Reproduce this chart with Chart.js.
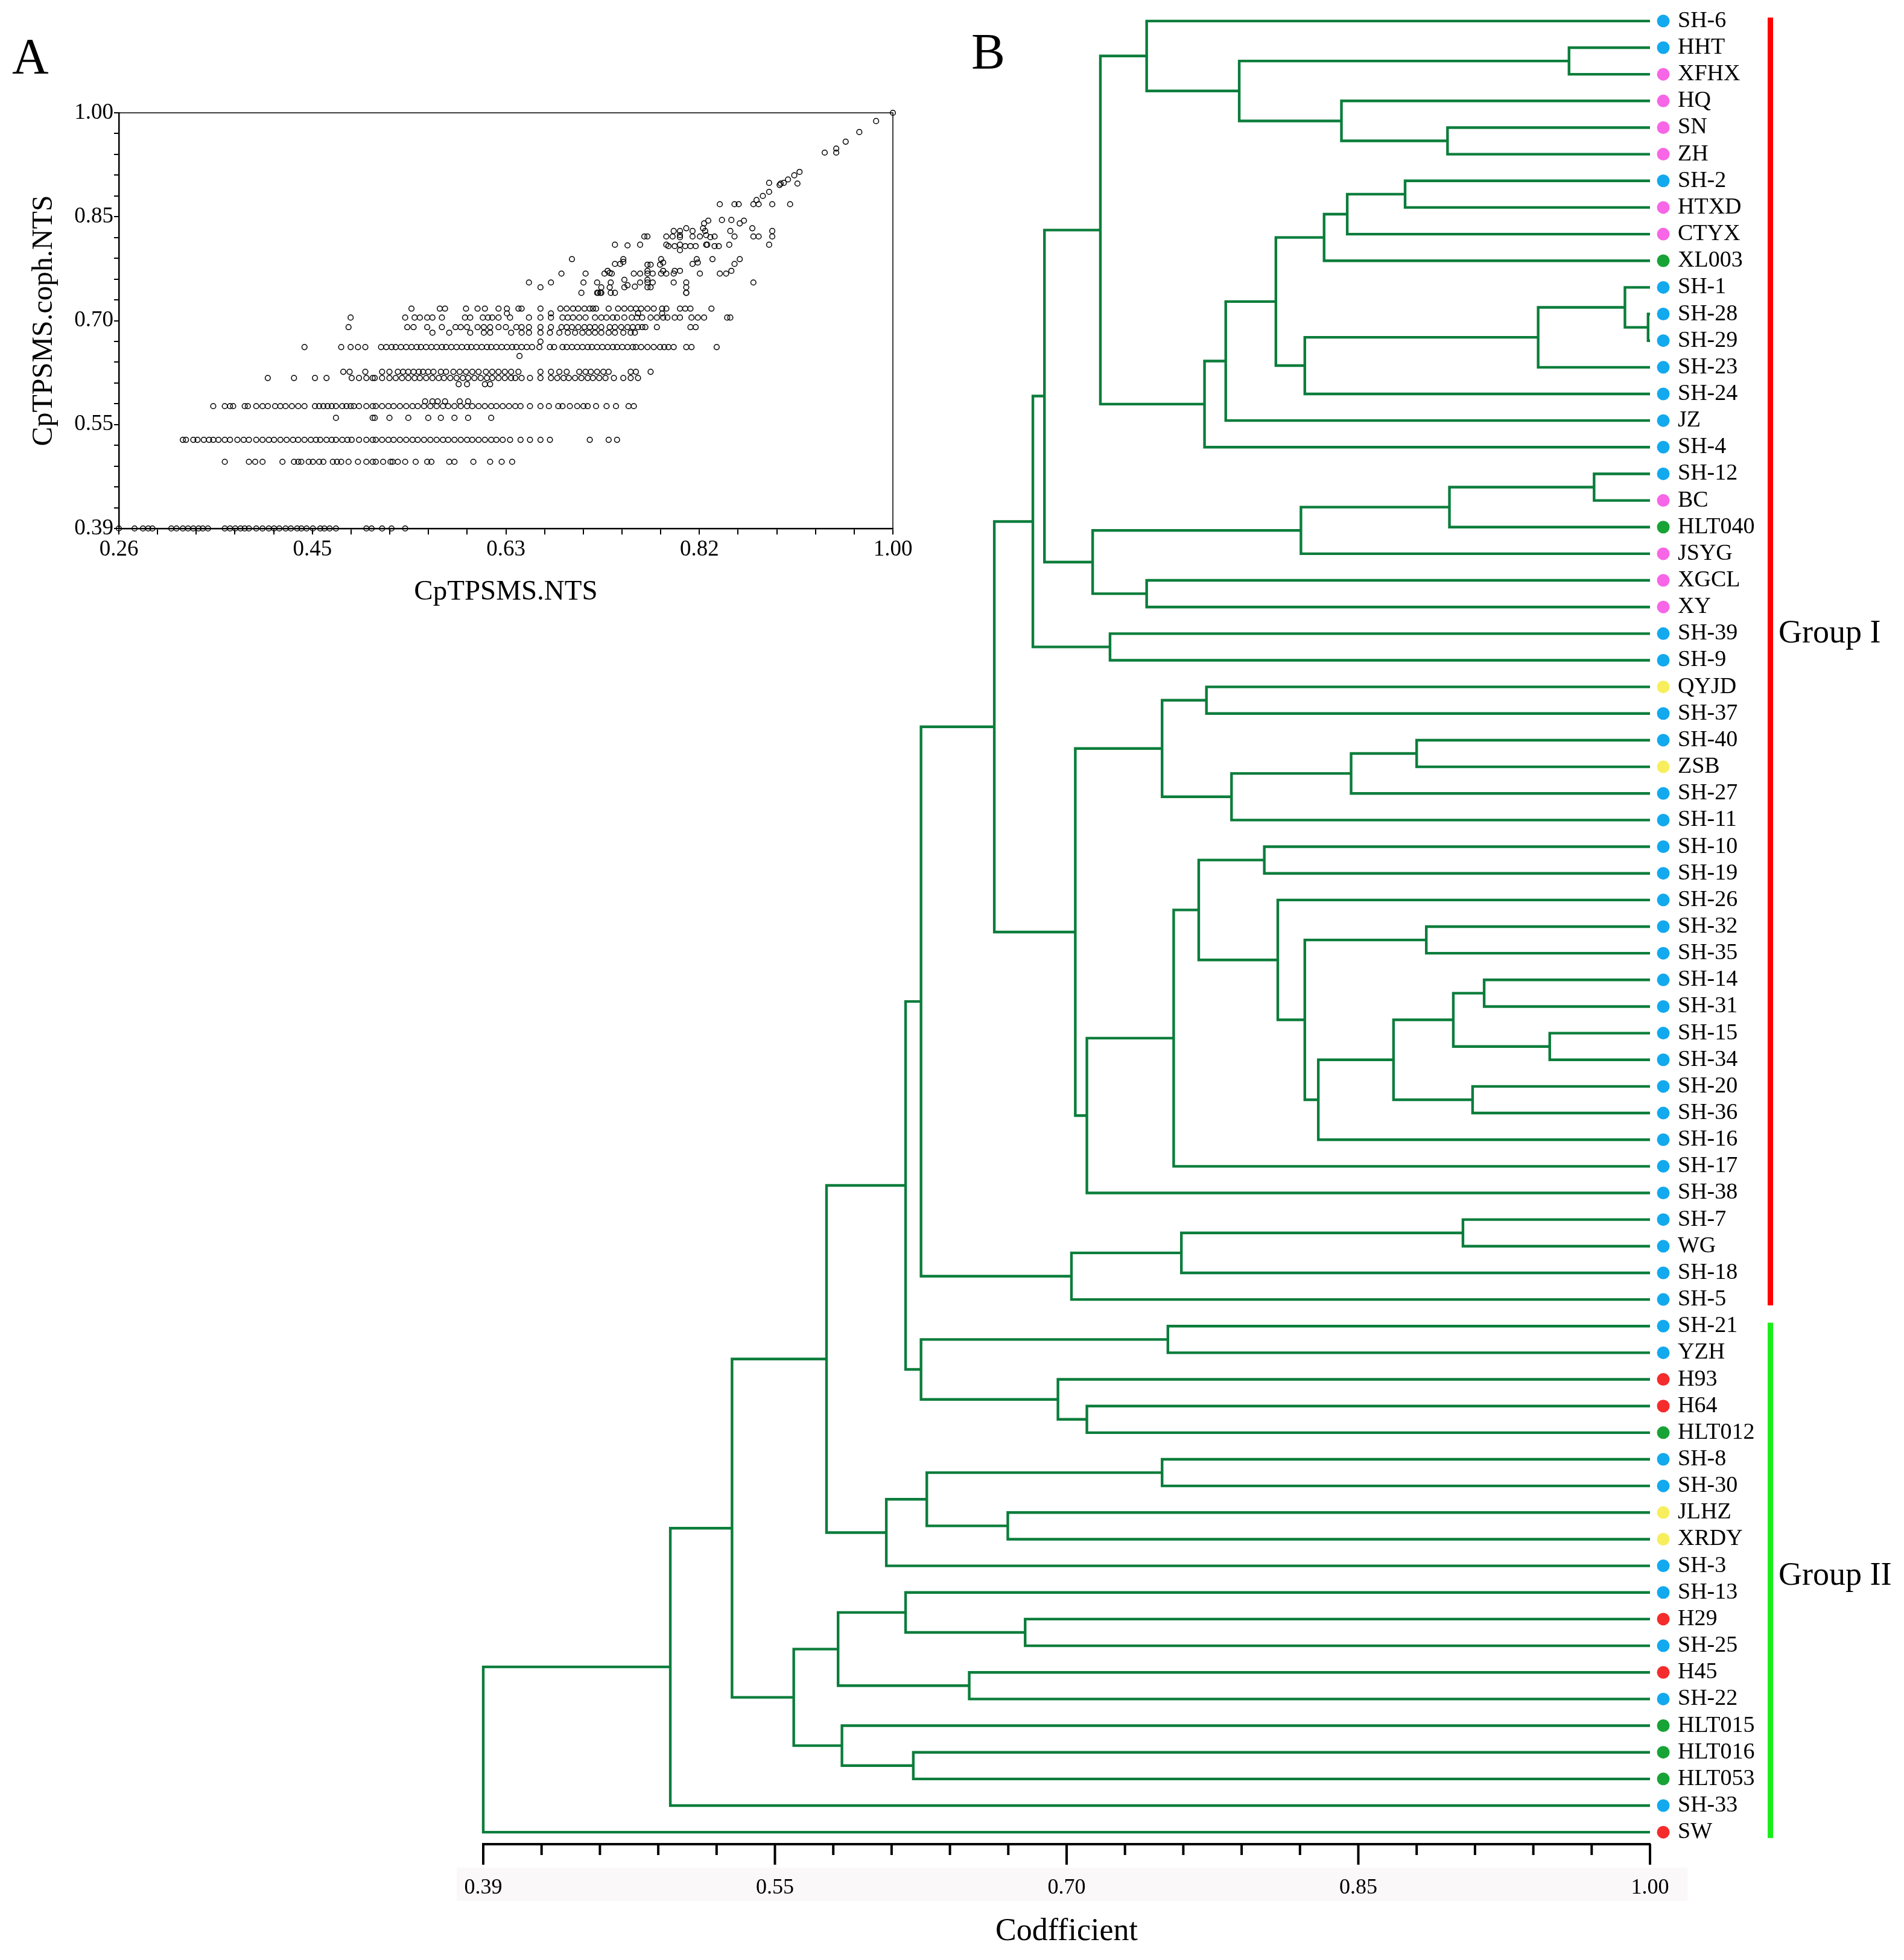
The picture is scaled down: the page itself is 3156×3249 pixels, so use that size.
<!DOCTYPE html>
<html>
<head>
<meta charset="utf-8">
<script src="https://cdn.jsdelivr.net/npm/chart.js@4.4.1/dist/chart.umd.min.js"></script>
<style>
  html, body { margin: 0; padding: 0; background: #fff; }
  #wrap { position: relative; width: 3156px; height: 3249px; }
  #wrap canvas { position: absolute; left: 0; top: 0; }
</style>
</head>
<body>
<div id="wrap">
  <canvas id="scatter" width="3156" height="3249"></canvas>
  <canvas id="tree" width="3156" height="3249"></canvas>
</div>
<script>
// ---------- panel A : NTS similarity vs cophenetic value ----------
const xTickLabels = ['0.26', '0.45', '0.63', '0.82', '1.00'];
const yTickLabels = ['0.39', '0.55', '0.70', '0.85', '1.00'];

// points sitting on one cophenetic level (one row each)
const nts395 = [0.262, 0.277, 0.285, 0.290, 0.294, 0.312, 0.317, 0.323, 0.328, 0.333, 0.338, 0.342, 0.347, 0.363, 0.368, 0.373, 0.378, 0.382, 0.386, 0.393, 0.399, 0.405, 0.410, 0.415, 0.421, 0.426, 0.432, 0.436, 0.441, 0.447, 0.454, 0.458, 0.463, 0.469, 0.498, 0.503, 0.513, 0.522, 0.535];
const nts492 = [0.363, 0.386, 0.392, 0.399, 0.418, 0.429, 0.433, 0.436, 0.443, 0.447, 0.453, 0.457, 0.466, 0.470, 0.474, 0.481, 0.490, 0.498, 0.504, 0.507, 0.514, 0.521, 0.523, 0.528, 0.535, 0.545, 0.556, 0.560, 0.577, 0.582, 0.600, 0.616, 0.627, 0.637];
const nts524 = [0.323, 0.326, 0.333, 0.337, 0.343, 0.348, 0.352, 0.357, 0.363, 0.368, 0.375, 0.381, 0.386, 0.393, 0.399, 0.405, 0.410, 0.416, 0.422, 0.428, 0.433, 0.439, 0.445, 0.450, 0.454, 0.460, 0.465, 0.469, 0.475, 0.480, 0.484, 0.491, 0.498, 0.504, 0.507, 0.513, 0.519, 0.524, 0.530, 0.536, 0.542, 0.547, 0.553, 0.559, 0.565, 0.571, 0.576, 0.582, 0.588, 0.594, 0.599, 0.605, 0.611, 0.617, 0.622, 0.628, 0.635, 0.645, 0.654, 0.664, 0.673, 0.711, 0.729, 0.737];
const nts556 = [0.469, 0.504, 0.506, 0.520, 0.538, 0.557, 0.569, 0.582, 0.595, 0.617];
const nts573 = [0.352, 0.363, 0.368, 0.371, 0.382, 0.385, 0.393, 0.399, 0.404, 0.411, 0.416, 0.421, 0.427, 0.433, 0.439, 0.449, 0.453, 0.457, 0.461, 0.465, 0.469, 0.475, 0.479, 0.483, 0.486, 0.491, 0.498, 0.504, 0.507, 0.513, 0.519, 0.524, 0.530, 0.536, 0.542, 0.547, 0.553, 0.559, 0.565, 0.571, 0.576, 0.582, 0.588, 0.594, 0.599, 0.605, 0.611, 0.617, 0.622, 0.628, 0.634, 0.640, 0.645, 0.654, 0.664, 0.672, 0.681, 0.685, 0.692, 0.699, 0.705, 0.709, 0.717, 0.727, 0.736, 0.748, 0.753];
const nts580 = [0.554, 0.561, 0.566, 0.573, 0.587, 0.595];
const nts605 = [0.586, 0.594, 0.611, 0.616];
const nts614 = [0.404, 0.429, 0.449, 0.460, 0.484, 0.491, 0.498, 0.504, 0.506, 0.513, 0.520, 0.526, 0.532, 0.538, 0.544, 0.549, 0.555, 0.561, 0.567, 0.572, 0.578, 0.584, 0.590, 0.595, 0.601, 0.607, 0.613, 0.618, 0.624, 0.630, 0.636, 0.640, 0.646, 0.654, 0.664, 0.674, 0.680, 0.686, 0.691, 0.697, 0.703, 0.709, 0.714, 0.720, 0.726, 0.734, 0.743, 0.750, 0.757];
const nts623 = [0.476, 0.482, 0.497, 0.513, 0.520, 0.528, 0.533, 0.538, 0.543, 0.548, 0.552, 0.557, 0.562, 0.569, 0.574, 0.581, 0.587, 0.593, 0.599, 0.605, 0.612, 0.618, 0.624, 0.630, 0.636, 0.643, 0.664, 0.674, 0.682, 0.689, 0.701, 0.707, 0.712, 0.718, 0.724, 0.729, 0.750, 0.755, 0.769];
const nts646 = [0.644];
const nts659 = [0.439, 0.474, 0.483, 0.490, 0.497, 0.512, 0.517, 0.522, 0.526, 0.531, 0.536, 0.541, 0.546, 0.550, 0.555, 0.560, 0.565, 0.570, 0.574, 0.579, 0.584, 0.589, 0.594, 0.598, 0.603, 0.608, 0.613, 0.617, 0.622, 0.627, 0.632, 0.637, 0.641, 0.646, 0.651, 0.656, 0.663, 0.673, 0.677, 0.685, 0.689, 0.694, 0.699, 0.704, 0.709, 0.713, 0.718, 0.723, 0.728, 0.733, 0.737, 0.742, 0.747, 0.752, 0.755, 0.760, 0.766, 0.772, 0.778, 0.782, 0.786, 0.791, 0.803, 0.808, 0.832];
const nts667 = [0.664];
const nts680 = [0.561, 0.577, 0.597, 0.610, 0.616, 0.636, 0.646, 0.653, 0.664, 0.673, 0.682, 0.690, 0.697, 0.704, 0.710, 0.716, 0.722, 0.729, 0.735, 0.743, 0.750, 0.754];
const nts688 = [0.481, 0.537, 0.543, 0.556, 0.570, 0.583, 0.588, 0.594, 0.604, 0.610, 0.616, 0.624, 0.631, 0.641, 0.646, 0.653, 0.664, 0.674, 0.684, 0.689, 0.694, 0.700, 0.706, 0.711, 0.716, 0.722, 0.730, 0.735, 0.741, 0.747, 0.752, 0.757, 0.761, 0.764, 0.775, 0.807, 0.812];
const nts702 = [0.483, 0.535, 0.544, 0.549, 0.556, 0.561, 0.570, 0.592, 0.597, 0.609, 0.614, 0.618, 0.624, 0.635, 0.653, 0.664, 0.674, 0.685, 0.690, 0.695, 0.701, 0.707, 0.716, 0.722, 0.727, 0.733, 0.737, 0.744, 0.751, 0.756, 0.761, 0.769, 0.775, 0.781, 0.785, 0.792, 0.797, 0.808, 0.814, 0.820, 0.842, 0.845];
const nts708 = [0.632, 0.674, 0.757, 0.780];
const nts715 = [0.541, 0.568, 0.573, 0.593, 0.604, 0.611, 0.624, 0.632, 0.643, 0.646, 0.664, 0.683, 0.689, 0.695, 0.700, 0.706, 0.711, 0.714, 0.717, 0.729, 0.738, 0.744, 0.750, 0.755, 0.760, 0.766, 0.772, 0.780, 0.784, 0.797, 0.802, 0.807, 0.827];
const nts738 = [0.703, 0.718, 0.719, 0.721, 0.722, 0.731, 0.735, 0.803];

const rowLevels = [0.395, 0.492, 0.524, 0.556, 0.573, 0.580, 0.605, 0.614, 0.623, 0.646, 0.659, 0.667, 0.680, 0.688, 0.702, 0.708, 0.715, 0.738];
const rowValues = [nts395, nts492, nts524, nts556, nts573, nts580, nts605, nts614, nts623, nts646, nts659, nts667, nts680, nts688, nts702, nts708, nts715, nts738];

// scattered points above the rows
const upperNts = [0.735, 0.747, 0.694, 0.735, 0.740, 0.743, 0.743, 0.684, 0.707, 0.725, 0.728, 0.730, 0.732, 0.744, 0.653, 0.664, 0.674, 0.705, 0.718, 0.722, 0.731, 0.730, 0.744, 0.747,
  1.000, 0.984, 0.968, 0.955, 0.935, 0.946, 0.946, 0.911, 0.906, 0.900, 0.896, 0.893, 0.892, 0.909, 0.882, 0.882, 0.876, 0.870,
  0.835, 0.849, 0.853, 0.867, 0.872, 0.885, 0.902, 0.837, 0.846, 0.854, 0.858, 0.820, 0.824,
  0.866, 0.885, 0.885, 0.845, 0.849, 0.867, 0.872, 0.803, 0.791, 0.797, 0.809, 0.819, 0.821,
  0.763, 0.766, 0.784, 0.790, 0.797, 0.797, 0.809, 0.816, 0.822, 0.826, 0.830,
  0.759, 0.784, 0.786, 0.792, 0.797, 0.802, 0.807, 0.812, 0.822, 0.823, 0.830, 0.834, 0.844, 0.882, 0.797,
  0.779, 0.781, 0.778, 0.766, 0.769, 0.813, 0.809, 0.814, 0.828, 0.854, 0.849,
  0.753, 0.759, 0.766, 0.766, 0.771, 0.779, 0.781, 0.784, 0.791, 0.792, 0.797, 0.816, 0.835, 0.841, 0.846,
  0.754, 0.759, 0.766, 0.766, 0.771, 0.766, 0.769, 0.791, 0.803, 0.803, 0.803, 0.867];
const upperCoph = [0.808, 0.807, 0.787, 0.780, 0.780, 0.783, 0.787, 0.766, 0.766, 0.766, 0.770, 0.767, 0.766, 0.757, 0.753, 0.746, 0.753, 0.753, 0.753, 0.746, 0.753, 0.746, 0.746, 0.749,
  1.000, 0.988, 0.972, 0.958, 0.942, 0.948, 0.942, 0.914, 0.909, 0.903, 0.898, 0.897, 0.895, 0.897, 0.898, 0.885, 0.879, 0.873,
  0.867, 0.867, 0.867, 0.867, 0.867, 0.867, 0.867, 0.844, 0.844, 0.839, 0.843, 0.839, 0.843,
  0.832, 0.828, 0.820, 0.828, 0.820, 0.820, 0.820, 0.832, 0.828, 0.828, 0.828, 0.832, 0.828,
  0.820, 0.820, 0.820, 0.820, 0.822, 0.819, 0.820, 0.820, 0.822, 0.819, 0.820,
  0.808, 0.808, 0.806, 0.806, 0.808, 0.806, 0.806, 0.806, 0.808, 0.808, 0.806, 0.806, 0.808, 0.808, 0.800,
  0.787, 0.782, 0.779, 0.779, 0.779, 0.787, 0.780, 0.782, 0.787, 0.787, 0.780,
  0.766, 0.766, 0.770, 0.766, 0.766, 0.766, 0.770, 0.766, 0.766, 0.770, 0.770, 0.766, 0.766, 0.766, 0.770,
  0.747, 0.753, 0.757, 0.753, 0.753, 0.746, 0.746, 0.753, 0.753, 0.746, 0.738, 0.753];

// ---------- panel B : UPGMA dendrogram ----------
const leafNames = ['SH-6', 'HHT', 'XFHX', 'HQ', 'SN', 'ZH', 'SH-2', 'HTXD', 'CTYX', 'XL003',
  'SH-1', 'SH-28', 'SH-29', 'SH-23', 'SH-24', 'JZ', 'SH-4', 'SH-12', 'BC', 'HLT040',
  'JSYG', 'XGCL', 'XY', 'SH-39', 'SH-9', 'QYJD', 'SH-37', 'SH-40', 'ZSB', 'SH-27',
  'SH-11', 'SH-10', 'SH-19', 'SH-26', 'SH-32', 'SH-35', 'SH-14', 'SH-31', 'SH-15', 'SH-34',
  'SH-20', 'SH-36', 'SH-16', 'SH-17', 'SH-38', 'SH-7', 'WG', 'SH-18', 'SH-5', 'SH-21',
  'YZH', 'H93', 'H64', 'HLT012', 'SH-8', 'SH-30', 'JLHZ', 'XRDY', 'SH-3', 'SH-13',
  'H29', 'SH-25', 'H45', 'SH-22', 'HLT015', 'HLT016', 'HLT053', 'SH-33', 'SW'];
const leafKind = ['b', 'b', 'p', 'p', 'p', 'p', 'b', 'p', 'p', 'g',
  'b', 'b', 'b', 'b', 'b', 'b', 'b', 'b', 'p', 'g',
  'p', 'p', 'p', 'b', 'b', 'y', 'b', 'b', 'y', 'b',
  'b', 'b', 'b', 'b', 'b', 'b', 'b', 'b', 'b', 'b',
  'b', 'b', 'b', 'b', 'b', 'b', 'b', 'b', 'b', 'b',
  'b', 'r', 'r', 'g', 'b', 'b', 'y', 'y', 'b', 'b',
  'r', 'b', 'r', 'b', 'g', 'g', 'g', 'b', 'r'];

// [child, child, coefficient] ; strings are leaves, numbers are earlier merges
const merges = [
  ['HHT', 'XFHX', 0.958], ['SN', 'ZH', 0.895], ['HQ', 1, 0.840], [0, 2, 0.787], ['SH-6', 3, 0.739],
  ['SH-2', 'HTXD', 0.873], [5, 'CTYX', 0.843], [6, 'XL003', 0.831], ['SH-28', 'SH-29', 0.999], ['SH-1', 8, 0.987],
  [9, 'SH-23', 0.942], [10, 'SH-24', 0.821], [7, 11, 0.806], [12, 'JZ', 0.780], [13, 'SH-4', 0.769],
  [4, 14, 0.715], ['SH-12', 'BC', 0.971], [16, 'HLT040', 0.896], [17, 'JSYG', 0.819], ['XGCL', 'XY', 0.739],
  [18, 19, 0.711], [15, 20, 0.686], ['SH-39', 'SH-9', 0.720], [21, 22, 0.680], ['QYJD', 'SH-37', 0.770],
  ['SH-40', 'ZSB', 0.879], [25, 'SH-27', 0.845], [26, 'SH-11', 0.783], [24, 27, 0.747], ['SH-10', 'SH-19', 0.800],
  ['SH-32', 'SH-35', 0.884], ['SH-14', 'SH-31', 0.914], ['SH-15', 'SH-34', 0.948], [31, 32, 0.898], ['SH-20', 'SH-36', 0.908],
  [33, 34, 0.867], [35, 'SH-16', 0.828], [30, 36, 0.821], ['SH-26', 37, 0.807], [29, 38, 0.766],
  [39, 'SH-17', 0.753], [40, 'SH-38', 0.708], [28, 41, 0.702], [23, 42, 0.660], ['SH-7', 'WG', 0.903],
  [44, 'SH-18', 0.757], [45, 'SH-5', 0.700], [43, 46, 0.622], ['SH-21', 'YZH', 0.750], ['H64', 'HLT012', 0.708],
  ['H93', 49, 0.693], [48, 50, 0.622], [47, 51, 0.614], ['SH-8', 'SH-30', 0.747], ['JLHZ', 'XRDY', 0.667],
  [53, 54, 0.625], [55, 'SH-3', 0.604], [52, 56, 0.573], ['H29', 'SH-25', 0.676], ['SH-13', 58, 0.614],
  ['H45', 'SH-22', 0.647], [59, 60, 0.579], ['HLT016', 'HLT053', 0.618], ['HLT015', 62, 0.581], [61, 63, 0.556],
  [57, 64, 0.524], [65, 'SH-33', 0.492], [66, 'SW', 0.395]
];

const treeTickLabels = ['0.39', '0.55', '0.70', '0.85', '1.00'];
const groupNames = ['Group I', 'Group II'];
const groupFirst = [0, 49];
const groupLast = [48, 68];
const groupLabelAt = [23, 58.4];

// ---------- styles ----------
const kindColors = { b: '#12a9ee', p: '#f766e6', g: '#18a336', y: '#f7ee5e', r: '#f42c2c' };
const groupColors = ['#ff0000', '#1aee1a'];
const treeGreen = '#0b7d3b';
const serif = '"Liberation Serif", "Times New Roman", serif';
Chart.defaults.font.family = serif;
Chart.defaults.color = '#000';

// ---------- build panel A ----------
const scatterPoints = [];
rowValues.forEach((row, k) => row.forEach(v => scatterPoints.push({ x: v, y: rowLevels[k] })));
upperNts.forEach((v, i) => scatterPoints.push({ x: v, y: upperCoph[i] }));

const sxMin = 0.262, sxMax = 1.0, syMin = 0.395, syMax = 1.0;
const scatterXTicks = [], scatterYTicks = [];
for (let i = 0; i <= 20; i++) {
  scatterXTicks.push(sxMin + (sxMax - sxMin) * i / 20);
  scatterYTicks.push(syMin + (syMax - syMin) * i / 20);
}

const scatterFrame = {
  id: 'scatterFrame',
  afterDraw(chart) {
    const { ctx, chartArea: a } = chart;
    ctx.save();
    ctx.strokeStyle = '#000';
    ctx.lineWidth = 1.5;
    ctx.beginPath();
    ctx.moveTo(a.left, a.top);
    ctx.lineTo(a.right, a.top);
    ctx.lineTo(a.right, a.bottom);
    ctx.stroke();
    ctx.fillStyle = '#000';
    ctx.font = '84px ' + serif;
    ctx.fillText('A', 20, 122);
    ctx.restore();
  }
};

new Chart(document.getElementById('scatter'), {
  type: 'scatter',
  data: {
    datasets: [{
      data: scatterPoints,
      pointRadius: 4.3,
      pointBorderWidth: 1.5,
      borderColor: '#000',
      backgroundColor: 'rgba(0,0,0,0)',
      clip: false
    }]
  },
  options: {
    responsive: false,
    animation: false,
    layout: { padding: { left: 0, top: 187, right: 1676, bottom: 2189 } },
    plugins: { legend: { display: false }, tooltip: { enabled: false } },
    scales: {
      x: {
        type: 'linear', min: sxMin, max: sxMax,
        afterBuildTicks: (axis) => { axis.ticks = scatterXTicks.map(v => ({ value: v })); },
        afterFit: (axis) => { axis.height = 184; },
        grid: { display: true, drawOnChartArea: false, drawTicks: true, tickLength: 10, color: '#000', lineWidth: 2 },
        border: { display: true, color: '#000', width: 2.5 },
        ticks: {
          autoSkip: false, maxRotation: 0, padding: 3, font: { size: 37 },
          callback: (v, i) => (i % 5 === 0 ? xTickLabels[i / 5] : '')
        },
        title: { display: true, text: 'CpTPSMS.NTS', font: { size: 47, lineHeight: 1.2 }, padding: { top: 0, bottom: 50 } }
      },
      y: {
        type: 'linear', min: syMin, max: syMax,
        afterBuildTicks: (axis) => { axis.ticks = scatterYTicks.map(v => ({ value: v })); },
        afterFit: (axis) => { axis.width = 197; },
        grid: { display: true, drawOnChartArea: false, drawTicks: true, tickLength: 8, color: '#000', lineWidth: 2 },
        border: { display: true, color: '#000', width: 2.5 },
        ticks: {
          autoSkip: false, padding: 1, font: { size: 37 },
          callback: (v, i) => (i % 5 === 0 ? yTickLabels[i / 5] : '')
        },
        title: { display: true, text: 'CpTPSMS.coph.NTS', font: { size: 48, lineHeight: 1.2 }, padding: { top: 45, bottom: 0 } }
      }
    }
  },
  plugins: [scatterFrame]
});

// ---------- build panel B ----------
const nodeY = [];
function nodePos(ref) {
  if (typeof ref === 'string') return { x: 1, y: leafNames.indexOf(ref) };
  return { x: merges[ref][2], y: nodeY[ref] };
}
const treeSets = merges.map((m, k) => {
  const a = nodePos(m[0]);
  const b = nodePos(m[1]);
  nodeY[k] = (a.y + b.y) / 2;
  return {
    data: [{ x: a.x, y: a.y }, { x: m[2], y: a.y }, { x: m[2], y: b.y }, { x: b.x, y: b.y }],
    showLine: true,
    borderColor: treeGreen,
    borderWidth: 4.4,
    borderJoinStyle: 'miter',
    pointRadius: 0,
    tension: 0,
    clip: false
  };
});

const dotGapPx = 22;
const txMin = 0.395, txMax = 1.0;
const treeXTicks = [];
for (let i = 0; i <= 20; i++) treeXTicks.push(txMin + (txMax - txMin) * i / 20);

const treeDecor = {
  id: 'treeDecor',
  beforeDraw(chart) {
    const { ctx, chartArea: a } = chart;
    ctx.save();
    ctx.fillStyle = '#faf8f8';
    ctx.fillRect(a.left - 44, a.bottom + 39, a.right - a.left + 106, 55);
    ctx.restore();
  },
  afterDraw(chart) {
    const { ctx, chartArea: a, scales: { x, y } } = chart;
    ctx.save();
    // leaf markers, coloured by source
    leafNames.forEach((n, i) => {
      ctx.fillStyle = kindColors[leafKind[i]];
      ctx.beginPath();
      ctx.arc(a.right + dotGapPx, y.getPixelForValue(i), 10.5, 0, Math.PI * 2);
      ctx.fill();
    });
    ctx.strokeStyle = '#000';
    ctx.lineWidth = 4;
    treeXTicks.forEach((v, i) => {
      const px = x.getPixelForValue(v);
      const len = i % 5 === 0 ? 34 : 18;
      ctx.beginPath();
      ctx.moveTo(px, a.bottom);
      ctx.lineTo(px, a.bottom + len);
      ctx.stroke();
    });
    groupNames.forEach((g, k) => {
      const y0 = y.getPixelForValue(groupFirst[k] - 0.13);
      const y1 = y.getPixelForValue(groupLast[k] + 0.22);
      ctx.fillStyle = groupColors[k];
      ctx.fillRect(a.right + 195, y0, 9, y1 - y0);
      ctx.fillStyle = '#000';
      ctx.font = '54px ' + serif;
      ctx.textBaseline = 'middle';
      ctx.fillText(g, a.right + 213, y.getPixelForValue(groupLabelAt[k]));
    });
    ctx.textBaseline = 'alphabetic';
    ctx.font = '84px ' + serif;
    ctx.fillText('B', 1610, 114);
    ctx.restore();
  }
};

new Chart(document.getElementById('tree'), {
  type: 'scatter',
  data: { datasets: treeSets },
  options: {
    responsive: false,
    animation: false,
    layout: { padding: { left: 801, top: 15, right: 241, bottom: 0 } },
    plugins: { legend: { display: false }, tooltip: { enabled: false } },
    scales: {
      x: {
        type: 'linear', min: txMin, max: txMax,
        afterBuildTicks: (axis) => { axis.ticks = treeXTicks.map(v => ({ value: v })); },
        afterFit: (axis) => { axis.height = 192; axis.paddingLeft = 0; axis.paddingRight = 0; },
        grid: { display: false },
        border: { display: true, color: '#000', width: 4 },
        ticks: {
          autoSkip: false, maxRotation: 0, padding: 43, font: { size: 36 },
          callback: (v, i) => (i % 5 === 0 ? treeTickLabels[i / 5] : '')
        },
        title: { display: true, text: 'Codfficient', font: { size: 52, lineHeight: 1.2 }, padding: { top: 0, bottom: 15 } }
      },
      y: {
        type: 'linear', position: 'right', reverse: true, min: -0.45, max: 68.45,
        afterBuildTicks: (axis) => { axis.ticks = leafNames.map((n, i) => ({ value: i })); },
        afterFit: (axis) => { axis.width = 180; axis.paddingTop = 0; axis.paddingBottom = 0; },
        grid: { display: false },
        border: { display: false },
        ticks: {
          autoSkip: false, padding: 38, font: { size: 38 },
          callback: (v, i) => leafNames[i]
        }
      }
    }
  },
  plugins: [treeDecor]
});
</script>
</body>
</html>
